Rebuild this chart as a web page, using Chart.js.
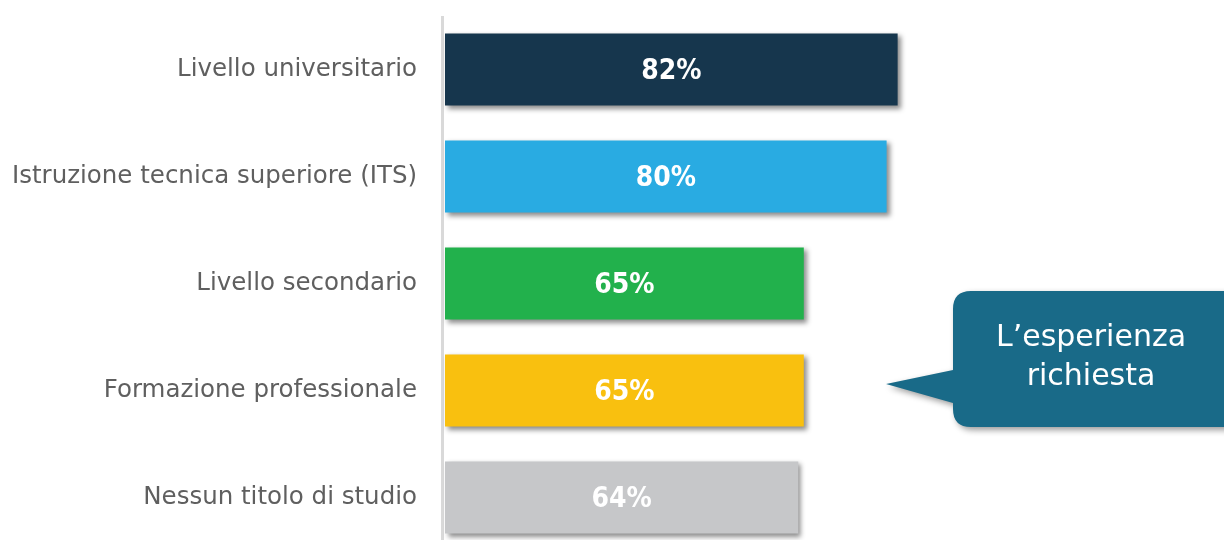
<!DOCTYPE html>
<html>
<head>
<meta charset="utf-8">
<script src="https://cdn.jsdelivr.net/npm/chart.js@4.4.1/dist/chart.umd.min.js"></script>
<style>
  html, body { margin: 0; padding: 0; background: #fff; overflow: hidden; }
  #wrap { position: relative; width: 1224px; height: 551px; }
</style>
</head>
<body>
<div id="wrap"><canvas id="chart"></canvas></div>
<script>
// dati
var categorie = ['Livello universitario', 'Istruzione tecnica superiore (ITS)', 'Livello secondario', 'Formazione professionale', 'Nessun titolo di studio'];
var valori = [82, 80, 65, 65, 64];
var colori = ['#16364d', '#29abe2', '#22b14c', '#f9c00f', '#c6c7c9'];
var nota = ['L\u2019esperienza', 'richiesta'];

// ombra sotto le barre
var ombraBarre = {
  id: 'ombraBarre',
  beforeDatasetDraw: function (chart) {
    var ctx = chart.ctx;
    ctx.save();
    ctx.shadowColor = 'rgba(0,0,0,0.45)';
    ctx.shadowBlur = 5;
    ctx.shadowOffsetX = 3;
    ctx.shadowOffsetY = 3;
  },
  afterDatasetDraw: function (chart) {
    chart.ctx.restore();
  }
};

// linea asse verticale + etichette valori + fumetto
var extra = {
  id: 'extra',
  beforeDatasetsDraw: function (chart) {
    var ctx = chart.ctx;
    var a = chart.chartArea;
    ctx.save();
    ctx.fillStyle = '#d9d9d9';
    ctx.fillRect(a.left - 4, a.top, 3, chart.height - a.top);
    ctx.restore();
  },
  afterDatasetsDraw: function (chart) {
    var ctx = chart.ctx;
    var meta = chart.getDatasetMeta(0);
    ctx.save();
    ctx.fillStyle = '#ffffff';
    ctx.font = 'bold 28px "DejaVu Sans Condensed", "DejaVu Sans"';
    ctx.textAlign = 'center';
    ctx.textBaseline = 'middle';
    meta.data.forEach(function (bar, i) {
      var cx = (bar.x + bar.base) / 2;
      ctx.fillText(valori[i] + '%', cx, bar.y + 2);
    });
    ctx.restore();

    // fumetto
    ctx.save();
    ctx.shadowColor = 'rgba(0,0,0,0.4)';
    ctx.shadowBlur = 6;
    ctx.shadowOffsetX = 3;
    ctx.shadowOffsetY = 3;
    ctx.fillStyle = '#196a88';
    var x = 953, y = 291, w = 290, h = 136, r = 18;
    ctx.beginPath();
    ctx.moveTo(x + r, y);
    ctx.lineTo(x + w - r, y);
    ctx.quadraticCurveTo(x + w, y, x + w, y + r);
    ctx.lineTo(x + w, y + h - r);
    ctx.quadraticCurveTo(x + w, y + h, x + w - r, y + h);
    ctx.lineTo(x + r, y + h);
    ctx.quadraticCurveTo(x, y + h, x, y + h - r);
    ctx.lineTo(x, 403);
    ctx.lineTo(886, 384);
    ctx.lineTo(x, 370);
    ctx.lineTo(x, y + r);
    ctx.quadraticCurveTo(x, y, x + r, y);
    ctx.closePath();
    ctx.fill();
    ctx.restore();

    ctx.save();
    ctx.fillStyle = '#ffffff';
    ctx.font = '30px "DejaVu Sans"';
    ctx.textAlign = 'center';
    ctx.textBaseline = 'middle';
    ctx.fillText(nota[0], 1091, 338);
    ctx.fillText(nota[1], 1091, 377);
    ctx.restore();
  }
};

new Chart(document.getElementById('chart'), {
  type: 'bar',
  data: {
    labels: categorie,
    datasets: [{
      data: valori,
      backgroundColor: colori,
      borderWidth: 0,
      barPercentage: 0.675,
      categoryPercentage: 1,
      clip: false
    }]
  },
  options: {
    indexAxis: 'y',
    responsive: true,
    maintainAspectRatio: false,
    animation: false,
    layout: { padding: { top: 16, right: 227, bottom: 0, left: 0 } },
    plugins: {
      legend: { display: false },
      tooltip: { enabled: false }
    },
    scales: {
      x: { display: false, min: 0, max: 100 },
      y: {
        grid: { display: false, drawTicks: false },
        border: { display: false },
        ticks: {
          color: '#5f5f5f',
          padding: 28,
          font: { family: 'DejaVu Sans', size: 24.5 }
        },
        afterFit: function (scale) {
          scale.width = 445;
          scale.paddingTop = 0;
          scale.paddingBottom = 0;
        }
      }
    }
  },
  plugins: [ombraBarre, extra]
});
</script>
</body>
</html>
